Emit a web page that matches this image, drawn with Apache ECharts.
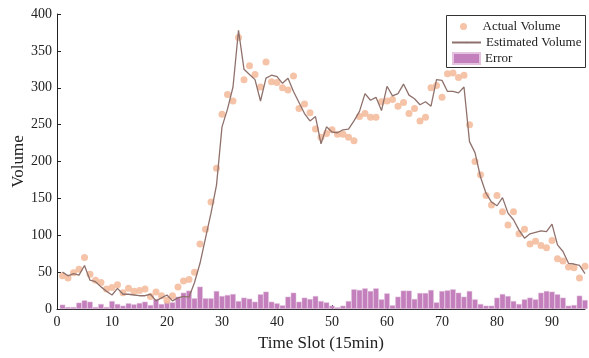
<!DOCTYPE html>
<html><head><meta charset="utf-8">
<script src="https://cdn.jsdelivr.net/npm/echarts@6/dist/echarts.min.js"></script>
<style>html,body{margin:0;padding:0;background:#fff}#c{width:589px;height:358px}</style>
</head><body><div id="c"></div>
<script>
const timeSlots = [1,2,3,4,5,6,7,8,9,10,11,12,13,14,15,16,17,18,19,20,21,22,23,24,25,26,27,28,29,30,31,32,33,34,35,36,37,38,39,40,41,42,43,44,45,46,47,48,49,50,51,52,53,54,55,56,57,58,59,60,61,62,63,64,65,66,67,68,69,70,71,72,73,74,75,76,77,78,79,80,81,82,83,84,85,86,87,88,89,90,91,92,93,94,95,96];
const actualVolume = [45,42,49,54,70,47,39,36,27,29,33,22,28,24,25,27,17,23,18,12,18,30,38,40,50,88,108,145,191,264,291,282,368,311,330,318,301,335,308,307,300,297,316,272,278,266,244,233,238,243,237,237,233,228,261,265,260,260,281,282,284,275,280,265,272,255,260,300,303,287,319,320,314,317,250,200,182,154,141,154,132,114,132,102,108,88,92,86,83,93,68,65,57,56,42,58];
const estimatedVolume = [50,45,48,46,59,39,37,30,24,19,28,20,20,19,18,18,20,11,15,19,11,15,17,16,36,62,96,130,168,247,271,301,378,325,318,311,282,313,317,315,306,313,295,280,265,255,261,224,247,240,239,243,244,255,268,292,283,287,269,302,289,292,305,290,285,277,281,275,311,310,295,295,293,301,227,212,179,157,145,140,151,130,121,107,96,102,104,106,105,115,87,78,62,61,59,48];
const errorVolume = [5.9,2.7,2.7,8.6,11.7,9.9,2.7,6.8,2.7,10.8,6.8,4.5,7.7,6.3,8.1,9.9,5.4,13.6,6.8,10.4,9,16.7,22.1,24.9,14.5,30.3,14.5,14.5,24.4,17.6,19,20.3,10.8,15.4,14,9.9,19.9,23.5,9.9,7.7,5,16.7,22.1,9.9,15.4,13.6,17.6,10.8,9,4.5,2.3,4.5,10.8,26.7,25.8,28,24.4,28,13.1,21.2,5,16.7,24.9,24.9,13.6,21.7,21.7,25.8,9,24.4,25.3,26.7,22.1,16.7,24.4,13.1,6.8,4.5,4.5,15.4,20.3,17.6,10.8,6.8,13.1,15.4,13.1,22.1,24.4,23.5,19.9,15.4,4.5,5.4,18.1,12.2];
const xTicks = [0,10,20,30,40,50,60,70,80,90];
const yTicks = [0,50,100,150,200,250,300,350,400];
const seriesNames = ['Actual Volume','Estimated Volume','Error'];

const pairs = arr => timeSlots.map((t,i)=>[t,arr[i]]);
const FONT = 'Liberation Serif';
const chart = echarts.init(document.getElementById('c'), null, {renderer:'canvas'});
chart.setOption({
  animation:false,
  backgroundColor:'#fff',
  textStyle:{fontFamily:FONT},
  grid:{left:57,right:4,top:14,bottom:49,containLabel:false,outerBoundsMode:'none'},
  xAxis:{
    type:'value',min:0,max:96,interval:10,
    name:'Time Slot (15min)',nameLocation:'middle',nameGap:26,nameMoveOverlap:false,
    nameTextStyle:{fontFamily:FONT,fontSize:17,color:'#222'},
    axisLine:{show:true,onZero:false,lineStyle:{color:'#222',width:1}},
    axisTick:{show:true,inside:true,length:4,lineStyle:{color:'#222'},customValues:xTicks},
    axisLabel:{fontFamily:FONT,fontSize:14,color:'#222',margin:6,customValues:xTicks},
    splitLine:{show:false}
  },
  yAxis:{
    type:'value',min:0,max:400,interval:50,
    name:'Volume',nameLocation:'middle',nameGap:30,nameMoveOverlap:false,
    nameTextStyle:{fontFamily:FONT,fontSize:17,color:'#222'},
    axisLine:{show:true,lineStyle:{color:'#222',width:1}},
    axisTick:{show:true,inside:true,length:4,lineStyle:{color:'#222'},customValues:yTicks},
    axisLabel:{fontFamily:FONT,fontSize:14,color:'#222',margin:5,customValues:yTicks},
    splitLine:{show:false}
  },
  graphic:[{type:'rect',z:10,shape:{x:446.5,y:15.5,width:139,height:52},style:{fill:'#fff',stroke:'#333',lineWidth:1}}],
  legend:[
    {data:[{name:seriesNames[0],icon:'circle'}],left:460,top:19,padding:0,itemWidth:28,itemHeight:7,itemGap:0,z:20,
     textStyle:{fontFamily:FONT,fontSize:13,color:'#222',lineHeight:15},selectedMode:false},
    {data:[{name:seriesNames[1]}],left:451,top:35,padding:0,itemWidth:29,itemHeight:2,itemGap:0,z:20,
     textStyle:{fontFamily:FONT,fontSize:13,color:'#222',lineHeight:15},selectedMode:false},
    {data:[{name:seriesNames[2],icon:'rect'}],left:452,top:51,padding:0,itemWidth:27,itemHeight:11,itemGap:0,z:20,
     textStyle:{fontFamily:FONT,fontSize:13,color:'#222',lineHeight:15},selectedMode:false}
  ],
  series:[
    {name:seriesNames[2],type:'bar',data:pairs(errorVolume),barWidth:5.5,z:1,
     itemStyle:{color:'#c480bc',borderColor:'#e3c3df',borderWidth:0.5}},
    {name:seriesNames[0],type:'scatter',data:pairs(actualVolume),symbolSize:7,z:2,
     itemStyle:{color:'#f4bd9e',opacity:0.9}},
    {name:seriesNames[1],type:'line',data:pairs(estimatedVolume),symbol:'none',z:3,
     lineStyle:{color:'#8f716c',width:1.3},itemStyle:{color:'#8f716c'}}
  ]
});
</script></body></html>
